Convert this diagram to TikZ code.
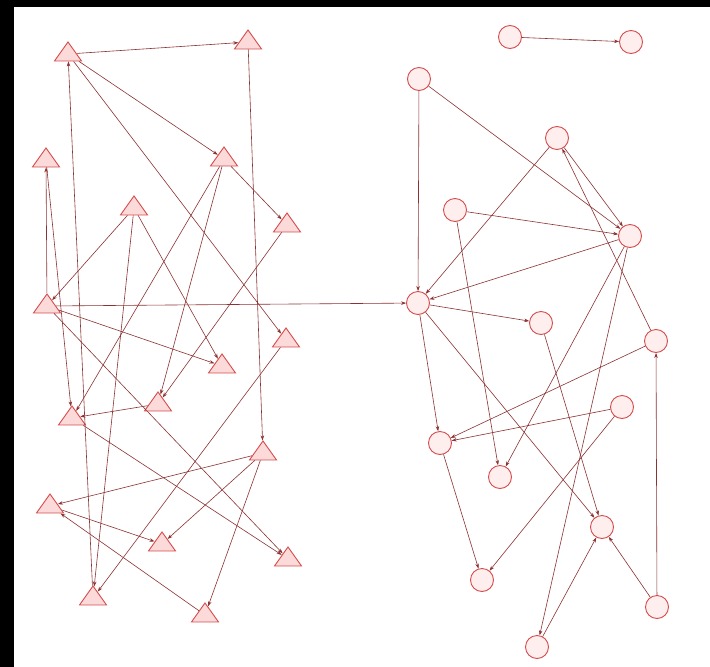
\documentclass[tikz,border=0pt]{standalone}
\usetikzlibrary{shapes.geometric,arrows.meta}
\definecolor{nodeRed}{RGB}{215,75,75}
\definecolor{fillRed}{RGB}{252,218,218}
\definecolor{edgeRed}{RGB}{140,50,50}
\begin{document}
\begin{tikzpicture}[x=1pt,y=-1pt,
 tri/.style={isosceles triangle, shape border rotate=90, isosceles triangle stretches, draw=nodeRed, fill=fillRed, line width=0.9pt, minimum width=27pt, minimum height=19pt, inner sep=0pt},
 circ/.style={circle, draw=nodeRed, fill=fillRed!45, line width=0.9pt, minimum size=23pt, inner sep=0pt},
 arr/.style={draw=edgeRed, line width=0.6pt, -{Stealth[length=5pt,width=3.5pt]}}]
\useasboundingbox (0,0) rectangle (710,667);
\fill[white] (0,0) rectangle (710,667);
\fill[black] (0,0) rectangle (710,7);
\fill[black] (0,0) rectangle (14,667);
% triangles
\node[tri] (T1) at (68,54) {};
\node[tri] (T2) at (248,42) {};
\node[tri] (T3) at (46,160) {};
\node[tri] (T4) at (224,159) {};
\node[tri] (T5) at (134,208) {};
\node[tri] (T6) at (287,225) {};
\node[tri] (T7) at (47,306) {};
\node[tri] (T8) at (286,340) {};
\node[tri] (T9) at (222,366) {};
\node[tri] (T10) at (158,404) {};
\node[tri] (T11) at (72,418) {};
\node[tri] (T12) at (263,453) {};
\node[tri] (T13) at (50,506) {};
\node[tri] (T14) at (162,544) {};
\node[tri] (T15) at (288,559) {};
\node[tri] (T16) at (93,598) {};
\node[tri] (T17) at (205,615) {};
% circles
\node[circ] (C1) at (510,37) {};
\node[circ] (C2) at (631,42) {};
\node[circ] (C3) at (419,79) {};
\node[circ] (C4) at (557,138) {};
\node[circ] (C5) at (455,210) {};
\node[circ] (C6) at (630,236) {};
\node[circ] (C7) at (418,303) {};
\node[circ] (C8) at (541,323) {};
\node[circ] (C9) at (656,341) {};
\node[circ] (C10) at (622,407) {};
\node[circ] (C11) at (440,443) {};
\node[circ] (C12) at (500,477) {};
\node[circ] (C13) at (602,527) {};
\node[circ] (C14) at (482,580) {};
\node[circ] (C15) at (657,607) {};
\node[circ] (C16) at (537,647) {};
% left edges
\draw[arr] (T1) -- (T2);
\draw[arr] (T2) -- (T12);
\draw[arr] (T1) -- (T4);
\draw[arr] (T1) -- (T8);
\draw[arr] (T16) -- (T1);
\draw[arr] (T4) -- (T6);
\draw[arr] (T7) -- (T3);
\draw[arr] (T3) -- (T11);
\draw[arr] (T4) -- (T10);
\draw[arr] (T4) -- (T11);
\draw[arr] (T6) -- (T10);
\draw[arr] (T5) -- (T7);
\draw[arr] (T5) -- (T16);
\draw[arr] (T5) -- (T9);
\draw[arr] (T7) -- (T9);
\draw[arr] (T7) -- (T15);
\draw[arr] (T7) -- (C7);
\draw[arr] (T10) -- (T11);
\draw[arr] (T11) -- (T15);
\draw[arr] (T8) -- (T16);
\draw[arr] (T12) -- (T13);
\draw[arr] (T12) -- (T14);
\draw[arr] (T12) -- (T17);
\draw[arr] (T13) -- (T14);
\draw[arr] (T17) -- (T13);
% right edges
\draw[arr] (C1) -- (C2);
\draw[arr] (C3) -- (C7);
\draw[arr] (C3) -- (C6);
\draw[arr] (C4) -- (C6);
\draw[arr] (C9) -- (C4);
\draw[arr] (C4) -- (C7);
\draw[arr] (C5) -- (C6);
\draw[arr] (C5) -- (C12);
\draw[arr] (C6) -- (C7);
\draw[arr] (C7) -- (C8);
\draw[arr] (C7) -- (C13);
\draw[arr] (C7) -- (C11);
\draw[arr] (C6) -- (C12);
\draw[arr] (C6) -- (C16);
\draw[arr] (C8) -- (C13);
\draw[arr] (C9) -- (C11);
\draw[arr] (C15) -- (C9);
\draw[arr] (C10) -- (C11);
\draw[arr] (C10) -- (C14);
\draw[arr] (C11) -- (C14);
\draw[arr] (C16) -- (C13);
\draw[arr] (C15) -- (C13);
\end{tikzpicture}
\end{document}
